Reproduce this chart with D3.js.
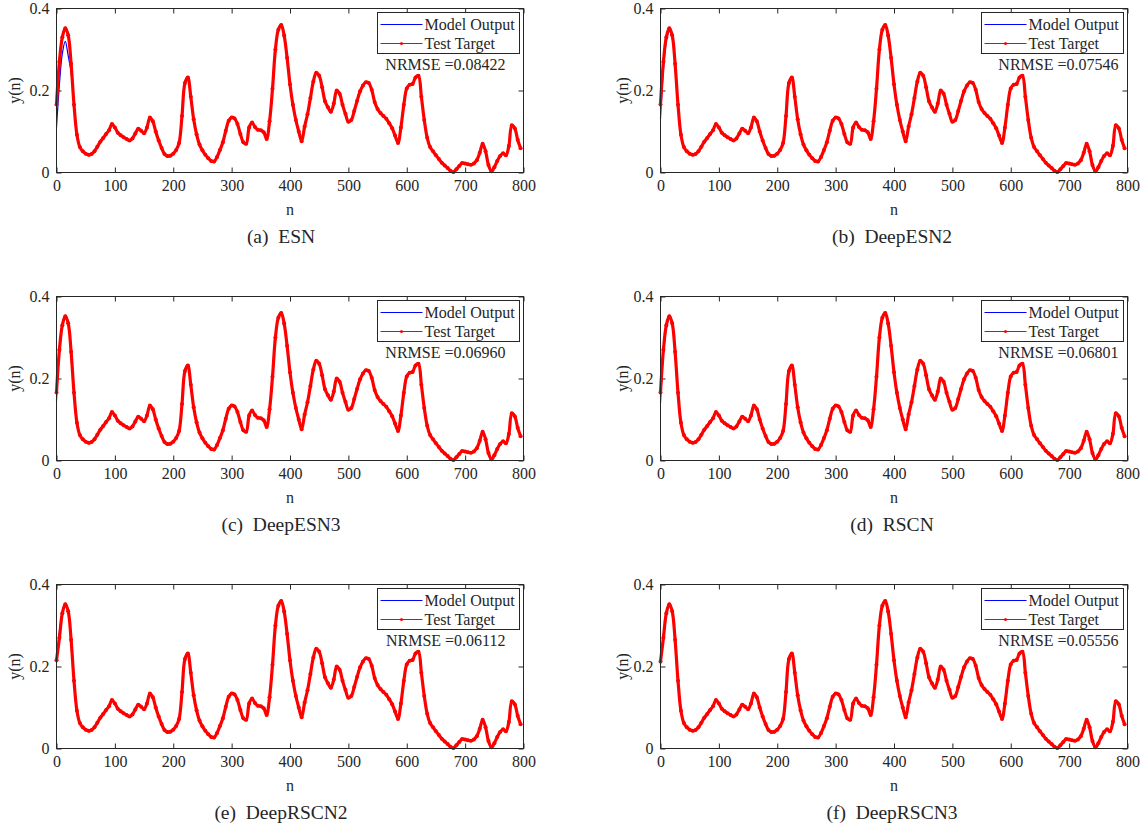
<!DOCTYPE html>
<html>
<head>
<meta charset="utf-8">
<script src="https://cdn.jsdelivr.net/npm/d3@7"></script>
<style>
  body { margin: 0; background: #fff; }
  svg { display: block; }
  text { font-family: "Liberation Serif", "Times New Roman", serif; fill: #262626; }
</style>
</head>
<body>
<svg id="fig" width="1146" height="831"></svg>
<script>
// ---- data ---------------------------------------------------------------
// test target y(n), sampled every 5 steps from n = 0 to n = 795
const sampleStep = 5;
const target = [
  0.166, 0.270, 0.330, 0.352, 0.335, 0.265, 0.165, 0.092, 0.062, 0.052,
  0.046, 0.043, 0.045, 0.052, 0.063, 0.075, 0.084, 0.094, 0.103, 0.118,
  0.110, 0.097, 0.091, 0.086, 0.082, 0.078, 0.083, 0.095, 0.107, 0.102,
  0.096, 0.110, 0.134, 0.125, 0.100, 0.078, 0.060, 0.045, 0.040, 0.041,
  0.046, 0.055, 0.072, 0.138, 0.218, 0.232, 0.185, 0.130, 0.093, 0.068,
  0.054, 0.043, 0.035, 0.028, 0.027, 0.038, 0.055, 0.074, 0.102, 0.126,
  0.134, 0.132, 0.118, 0.094, 0.074, 0.070, 0.110, 0.122, 0.111, 0.104,
  0.103, 0.098, 0.082, 0.125, 0.204, 0.300, 0.348, 0.360, 0.334, 0.280,
  0.215, 0.165, 0.128, 0.100, 0.076, 0.112, 0.142, 0.182, 0.222, 0.243,
  0.236, 0.208, 0.174, 0.159, 0.148, 0.168, 0.200, 0.192, 0.165, 0.143,
  0.124, 0.128, 0.150, 0.175, 0.198, 0.212, 0.220, 0.218, 0.202, 0.172,
  0.155, 0.145, 0.138, 0.131, 0.120, 0.108, 0.090, 0.072, 0.110, 0.165,
  0.205, 0.214, 0.216, 0.232, 0.236, 0.185, 0.128, 0.085, 0.062, 0.052,
  0.042, 0.033, 0.024, 0.017, 0.011, 0.004, 0.001, 0.008, 0.016, 0.023,
  0.022, 0.020, 0.019, 0.022, 0.030, 0.048, 0.070, 0.052, 0.018, 0.003,
  0.013, 0.028, 0.040, 0.047, 0.042, 0.065, 0.115, 0.108, 0.080, 0.059
];

// first target value shown in each panel (n = 0)
const targetStart = [0.166, 0.166, 0.166, 0.166, 0.215, 0.212];

// model outputs over the warm-up stretch n = 0..30; afterwards they follow the target
const warmupN = [0, 5, 10, 15, 20, 25, 30];
const outESN       = [0.110, 0.215, 0.290, 0.320, 0.285, 0.245, 0.165];
const outDeepESN2  = [0.131, 0.250, 0.320, 0.345, 0.328, 0.262, 0.165];
const outDeepESN3  = [0.146, 0.262, 0.325, 0.350, 0.333, 0.265, 0.165];
const outRSCN      = [0.140, 0.258, 0.322, 0.347, 0.333, 0.265, 0.165];
const outDeepRSCN2 = [0.210, 0.285, 0.332, 0.350, 0.334, 0.265, 0.165];
const outDeepRSCN3 = [0.205, 0.280, 0.330, 0.350, 0.334, 0.265, 0.165];

const captions = ["(a)  ESN", "(b)  DeepESN2", "(c)  DeepESN3", "(d)  RSCN", "(e)  DeepRSCN2", "(f)  DeepRSCN3"];
const nrmse = ["0.08422", "0.07546", "0.06960", "0.06801", "0.06112", "0.05556"];
const outputs = [outESN, outDeepESN2, outDeepESN3, outRSCN, outDeepRSCN2, outDeepRSCN3];

const xTicks = [0, 100, 200, 300, 400, 500, 600, 700, 800];
const yTicks = [0, 0.2, 0.4];
const legendLabels = ["Model Output", "Test Target"];

// ---- layout ---------------------------------------------------------------
const colX = [56, 660];
const rowY = [8, 296, 584];
const W = 467, H = 164;
const captionX = [281, 892];
const yLabelDx = [-37, -33];
const nrmseRight = [W - 18, W - 9];
const axisColor = "#262626";
const fontSize = 16;

const svg = d3.select("#fig");
svg.append("rect").attr("width", 1146).attr("height", 831).attr("fill", "#fff");

const x = d3.scaleLinear().domain([0, 800]).range([0, W]);
const y = d3.scaleLinear().domain([0, 0.4]).range([H, 0]);
const line = d3.line().x(d => x(d[0])).y(d => y(d[1])).curve(d3.curveCatmullRom.alpha(0.5));

const nGrid = d3.range(target.length).map(i => i * sampleStep);

outputs.forEach((out, i) => {
  const col = i % 2, row = Math.floor(i / 2);
  const g = svg.append("g").attr("transform", `translate(${colX[col] + 0.5},${rowY[row] + 0.5})`);

  const redPts = nGrid.map((n, k) => [n, k === 0 ? targetStart[i] : target[k]]);
  const bluePts = warmupN.map((n, k) => [n, out[k]])
    .concat(nGrid.filter(n => n > warmupN[warmupN.length - 1]).map(n => [n, target[n / sampleStep]]));

  // axes with inward ticks on all four sides
  const fmtY = d => d === 0 ? "0" : d.toFixed(1);
  const bottom = g.append("g").attr("transform", `translate(0,${H})`)
    .call(d3.axisBottom(x).tickValues(xTicks).tickSizeInner(-5).tickSizeOuter(0).tickPadding(7));
  const top = g.append("g")
    .call(d3.axisTop(x).tickValues(xTicks).tickSizeInner(-5).tickSizeOuter(0).tickFormat(""));
  const left = g.append("g")
    .call(d3.axisLeft(y).tickValues(yTicks).tickSizeInner(-5).tickSizeOuter(0).tickPadding(7).tickFormat(fmtY));
  const right = g.append("g").attr("transform", `translate(${W},0)`)
    .call(d3.axisRight(y).tickValues(yTicks).tickSizeInner(-5).tickSizeOuter(0).tickFormat(""));
  [bottom, top, left, right].forEach(a => {
    a.select(".domain").remove();
    a.selectAll("line").attr("stroke", axisColor);
    a.selectAll("text").attr("fill", axisColor).style("font-size", fontSize + "px")
      .style("font-family", '"Liberation Serif", "Times New Roman", serif');
  });

  // series
  g.append("path").datum(bluePts).attr("d", line)
    .attr("fill", "none").attr("stroke", "#0000ff").attr("stroke-width", 1.2);
  g.append("path").datum(redPts).attr("d", line)
    .attr("fill", "none").attr("stroke", "#ff0000").attr("stroke-width", 3.2);
  g.append("g").selectAll("circle").data(redPts).join("circle")
    .attr("cx", d => x(d[0])).attr("cy", d => y(d[1])).attr("r", 2).attr("fill", "#ff0000");

  // frame
  g.append("rect").attr("width", W).attr("height", H)
    .attr("fill", "none").attr("stroke", axisColor).attr("stroke-width", 1);

  // legend
  const lg = g.append("g").attr("transform", `translate(${W - 146},4)`);
  lg.append("rect").attr("width", 142).attr("height", 41)
    .attr("fill", "#fff").attr("stroke", axisColor).attr("stroke-width", 1);
  const legendColors = ["#0000ff", "#ff0000"];
  legendLabels.forEach((lab, k) => {
    const cy = 12 + k * 19;
    lg.append("line").attr("x1", 3).attr("x2", 45).attr("y1", cy).attr("y2", cy)
      .attr("stroke", legendColors[k]).attr("stroke-width", 1.1);
    if (k === 1) lg.append("circle").attr("cx", 24).attr("cy", cy).attr("r", 1.5).attr("fill", "#ff0000");
    lg.append("text").attr("x", 47).attr("y", cy + 5.5).style("font-size", fontSize + "px").text(lab);
  });

  // error annotation
  g.append("text").attr("x", nrmseRight[col]).attr("y", 61).attr("text-anchor", "end")
    .style("font-size", fontSize + "px").text("NRMSE =" + nrmse[i]);

  // axis titles
  g.append("text").attr("transform", `translate(${yLabelDx[col]},${H / 2}) rotate(-90)`)
    .attr("text-anchor", "middle").style("font-size", fontSize + "px").text("y(n)");
  g.append("text").attr("x", W / 2).attr("y", H + 42).attr("text-anchor", "middle")
    .style("font-size", fontSize + "px").text("n");

  // sub-figure caption
  svg.append("text").attr("x", captionX[col]).attr("y", rowY[row] + H + 71)
    .attr("text-anchor", "middle").style("font-size", "19.5px").style("white-space", "pre")
    .attr("xml:space", "preserve").text(captions[i]);
});
</script>
</body>
</html>
